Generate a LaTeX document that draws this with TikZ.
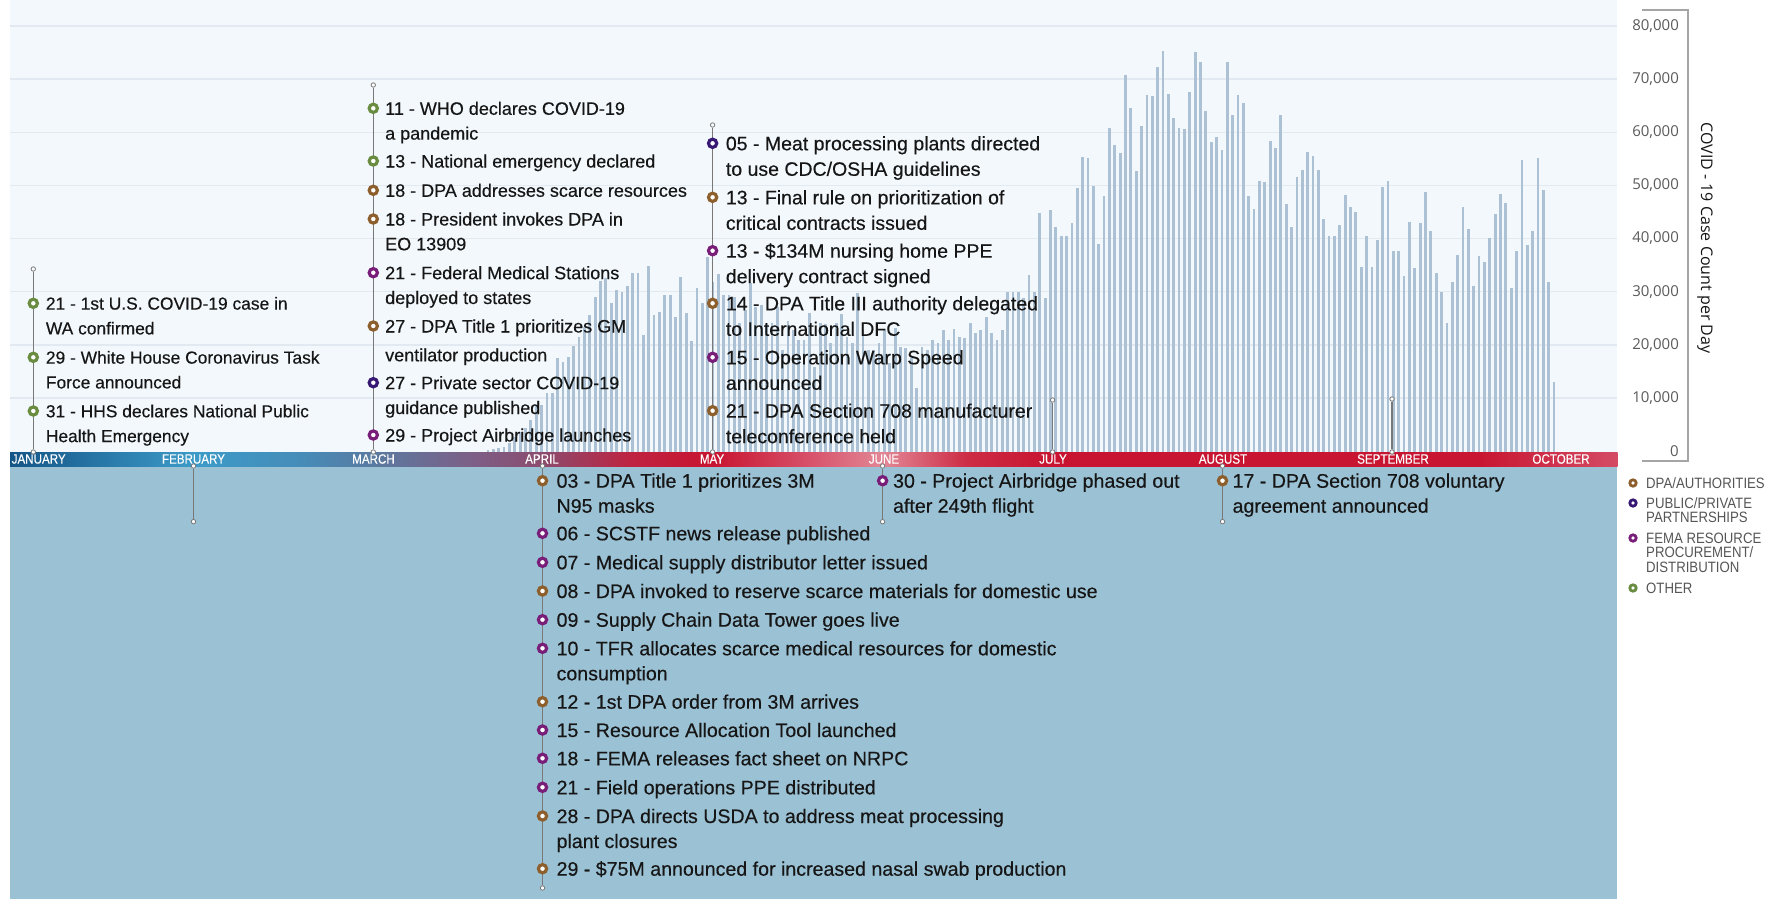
\documentclass[tikz,border=0pt]{standalone}
\usepackage{fontspec}
\setmainfont{Liberation Sans}
\newfontfamily\eventfont[FakeBold=0.35]{Liberation Sans}
\newfontfamily\condfont[FakeStretch=0.88]{Liberation Sans}
\newfontfamily\bandfont[FakeStretch=0.86,FakeBold=0.3]{Liberation Sans}
\newfontfamily\axisfont{Open Sans}

\definecolor{paper}{RGB}{243,248,252}
\definecolor{lowpanel}{RGB}{155,193,212}
\definecolor{gridc}{RGB}{226,233,240}
\definecolor{barc}{RGB}{172,194,212}
\definecolor{leadgray}{RGB}{120,120,120}
\definecolor{ink}{RGB}{22,22,22}
\definecolor{tickgray}{RGB}{90,90,90}
\definecolor{axisgray}{RGB}{165,165,165}
\definecolor{leggray}{RGB}{85,85,85}
\definecolor{dpa}{RGB}{140,95,45}
\definecolor{ppp}{RGB}{55,25,115}
\definecolor{fema}{RGB}{120,30,120}
\definecolor{other}{RGB}{105,140,65}
% timeline band colours, left to right
\definecolor{b0}{RGB}{20,85,135}
\definecolor{b1}{RGB}{60,155,200}
\definecolor{b2}{RGB}{70,140,185}
\definecolor{b3}{RGB}{90,122,160}
\definecolor{b4}{RGB}{125,95,135}
\definecolor{b5}{RGB}{140,75,110}
\definecolor{b6}{RGB}{190,35,65}
\definecolor{b7}{RGB}{200,20,48}
\definecolor{b8}{RGB}{214,75,100}
\definecolor{b9}{RGB}{226,135,150}
\definecolor{b10}{RGB}{205,45,70}
\definecolor{b11}{RGB}{200,20,48}
\definecolor{b12}{RGB}{200,22,50}
\definecolor{b13}{RGB}{212,75,100}

\begin{document}
\begin{tikzpicture}[x=1pt,y=-1pt,
  ring/.style={circle, draw=#1, fill=white, line width=3.2pt, inner sep=0pt, minimum size=8.2pt},
  legring/.style={circle, draw=#1, fill=white, line width=2.8pt, inner sep=0pt, minimum size=6.4pt},
  pin/.style={circle, draw=leadgray, fill=white, line width=0.8pt, inner sep=0pt, minimum size=4.4pt},
  lead/.style={draw=leadgray, line width=1.1pt},
  uptext/.style={anchor=base west, align=left, inner sep=0pt, text=ink, font=\eventfont\fontsize{18}{24.8}\selectfont},
  jantext/.style={uptext, font=\eventfont\fontsize{17.4}{24.8}\selectfont},
  maytext/.style={uptext, font=\eventfont\fontsize{19.5}{25.5}\selectfont},
  lowtext/.style={anchor=base west, align=left, inner sep=0pt, text=ink, font=\eventfont\fontsize{19.6}{25}\selectfont},
  month/.style={inner sep=0pt, text=white, font=\bandfont\fontsize{13.5}{13.5}\selectfont},
  tick/.style={anchor=east, inner sep=0pt, text=tickgray, font=\axisfont\fontsize{15}{15}\selectfont},
  legend/.style={anchor=base west, align=left, inner sep=0pt, text=leggray, font=\condfont\fontsize{15}{14.5}\selectfont},
  gridline/.style={draw=gridc, line width=1.4pt},
  bar/.style={fill=barc}
]
\useasboundingbox (0,0) rectangle (1786,899);

% panels
\fill[paper] (10,0) rectangle (1617,452);
\fill[lowpanel] (10,466) rectangle (1617,899);

% horizontal grid
\foreach \gy in {26,79.1,132.2,185.4,238.5,291.6,344.8,397.9}
  \draw[gridline] (10,\gy) -- (1617,\gy);

% daily case bars (top edge of each bar)
\foreach \t [count=\i from 0] in {
450,449,448,447,443,437,432,428,420,405,405,393,393,358,362,357,346,337,327,315,
297,281,278,303,290,292,286,273,273,335,266,315,312,295,295,317,277,313,341,288,303,257,
282,274,295,295,297,323,310,283,307,305,323,323,307,350,321,330,340,340,313,367,
323,324,343,323,314,337,343,293,330,350,350,343,330,363,328,347,348,358,388,347,
350,340,343,330,340,329,337,338,323,333,330,317,333,340,330,292,292,292,298,275,292,213,298,
210,227,236,236,223,188,157,158,186,244,196,128,145,153,75,108,171,126,95,96,
67,51,94,118,128,129,92,52,62,111,142,137,150,62,115,95,103,196,209,181,
182,141,148,115,204,227,177,170,152,156,170,219,236,236,225,195,207,212,267,236,
267,240,187,181,251,251,276,222,268,223,192,231,273,292,323,282,255,207,229,286,
256,262,238,214,194,203,288,251,160,245,231,158,190,282,382}
  \fill[bar] ({488+5.357*\i-1.4},452) rectangle ({488+5.357*\i+1.4},\t);

% timeline band
\foreach \xa/\xb/\ca/\cb in {10/194/b0/b1, 194/300/b1/b2, 300/374/b2/b3, 374/470/b3/b4,
  470/542/b4/b5, 542/630/b5/b6, 630/712/b6/b7, 712/800/b7/b8, 800/883/b8/b9,
  883/965/b9/b10, 965/1052/b10/b11, 1052/1480/b11/b12, 1480/1617/b12/b13}
  \shade[left color=\ca, right color=\cb] (\xa,452) rectangle ({\xb+0.6},466);

\node[month, anchor=west] (mJan) at (11.5,459) {JANUARY};
\node[month] (mFeb) at (193.5,459) {FEBRUARY};
\node[month] (mMar) at (373.5,459) {MARCH};
\node[month] (mApr) at (542,459) {APRIL};
\node[month] (mMay) at (712,459) {MAY};
\node[month] (mJun) at (884,459) {JUNE};
\node[month] (mJul) at (1053,459) {JULY};
\node[month] (mAug) at (1223,459) {AUGUST};
\node[month] (mSep) at (1393,459) {SEPTEMBER};
\node[month] (mOct) at (1561,459) {OCTOBER};

% leader lines with end pins
\node[pin] (janTop) at (33.3,269) {};
\node[pin] (janBand) at (33.3,452) {};
\draw[lead] (janTop) -- (janBand);
\node[pin] (febBand) at (193.5,466) {};
\node[pin] (febEnd) at (193.5,521.6) {};
\draw[lead] (febBand) -- (febEnd);
\node[pin] (marTop) at (373.3,85) {};
\node[pin] (marBand) at (373.3,452) {};
\draw[lead] (marTop) -- (marBand);
\node[pin] (aprBand) at (542.5,466) {};
\node[pin] (aprEnd) at (542.5,888) {};
\draw[lead] (aprBand) -- (aprEnd);
\node[pin] (mayTop) at (712.6,125) {};
\node[pin] (mayBand) at (712.6,452) {};
\draw[lead] (mayTop) -- (mayBand);
\node[pin] (junBand) at (882.6,466) {};
\node[pin] (junEnd) at (882.6,521.7) {};
\draw[lead] (junBand) -- (junEnd);
\node[pin] (julTop) at (1052.6,400) {};
\node[pin] (julBand) at (1052.6,452) {};
\draw[lead] (julTop) -- (julBand);
\node[pin] (augBand) at (1222.5,466) {};
\node[pin] (augEnd) at (1222.5,521.6) {};
\draw[lead] (augBand) -- (augEnd);
\node[pin] (sepTop) at (1392,399) {};
\node[pin] (sepBand) at (1392,452) {};
\draw[lead] (sepTop) -- (sepBand);

% January (node base = baseline of the last line)
\node[ring=other] (j1) at (33.3,303.3) {};
\node[jantext] (j1t) at (45.7,334.4) {21 - 1st U.S. COVID-19 case in\\WA confirmed};
\node[ring=other] (j2) at (33.3,357.3) {};
\node[jantext] (j2t) at (45.7,388.4) {29 - White House Coronavirus Task\\Force announced};
\node[ring=other] (j3) at (33.3,411) {};
\node[jantext] (j3t) at (45.7,442.1) {31 - HHS declares National Public\\Health Emergency};

% March
\node[ring=other] (r1) at (373.3,108.3) {};
\node[uptext] (r1t) at (385,139.6) {11 - WHO declares COVID-19\\a pandemic};
\node[ring=other] (r2) at (373.3,161) {};
\node[uptext] (r2t) at (385,167.5) {13 - National emergency declared};
\node[ring=dpa] (r3) at (373.3,190.3) {};
\node[uptext] (r3t) at (385,196.8) {18 - DPA addresses scarce resources};
\node[ring=dpa] (r4) at (373.3,219) {};
\node[uptext] (r4t) at (385,250.3) {18 - President invokes DPA in\\EO 13909};
\node[ring=fema] (r5) at (373.3,272.7) {};
\node[uptext] (r5t) at (385,304.0) {21 - Federal Medical Stations\\deployed to states};
\node[ring=dpa] (r6) at (373.3,326) {};
\node[uptext] (r6t) at (385,361.3) {27 - DPA Title 1 prioritizes GM\\[4pt]ventilator production};
\node[ring=ppp] (r7) at (373.3,382.7) {};
\node[uptext] (r7t) at (385,414.0) {27 - Private sector COVID-19\\guidance published};
\node[ring=fema] (r8) at (373.3,435) {};
\node[uptext] (r8t) at (385,441.5) {29 - Project Airbridge launches};

% May
\node[ring=ppp] (y1) at (712.6,143.3) {};
\node[maytext] (y1t) at (725.7,175.8) {05 - Meat processing plants directed\\to use CDC/OSHA guidelines};
\node[ring=dpa] (y2) at (712.6,197.3) {};
\node[maytext] (y2t) at (725.7,229.8) {13 - Final rule on prioritization of\\critical contracts issued};
\node[ring=fema] (y3) at (712.6,250.7) {};
\node[maytext] (y3t) at (725.7,283.2) {13 - \$134M nursing home PPE\\delivery contract signed};
\node[ring=dpa] (y4) at (712.6,303.3) {};
\node[maytext] (y4t) at (725.7,335.8) {14 - DPA Title III authority delegated\\to International DFC};
\node[ring=fema] (y5) at (712.6,357.3) {};
\node[maytext] (y5t) at (725.7,389.8) {15 - Operation Warp Speed\\announced};
\node[ring=dpa] (y6) at (712.6,410.7) {};
\node[maytext] (y6t) at (725.7,443.2) {21 - DPA Section 708 manufacturer\\teleconference held};

% April
\node[ring=dpa] (a1) at (542.5,480.7) {};
\node[lowtext] (a1t) at (556.4,512.7) {03 - DPA Title 1 prioritizes 3M\\N95 masks};
\node[ring=fema] (a2) at (542.5,533.3) {};
\node[lowtext] (a2t) at (556.4,540.3) {06 - SCSTF news release published};
\node[ring=fema] (a3) at (542.5,562.3) {};
\node[lowtext] (a3t) at (556.4,569.3) {07 - Medical supply distributor letter issued};
\node[ring=dpa] (a4) at (542.5,591) {};
\node[lowtext] (a4t) at (556.4,598) {08 - DPA invoked to reserve scarce materials for domestic use};
\node[ring=fema] (a5) at (542.5,619.7) {};
\node[lowtext] (a5t) at (556.4,626.7) {09 - Supply Chain Data Tower goes live};
\node[ring=fema] (a6) at (542.5,648.3) {};
\node[lowtext] (a6t) at (556.4,680.3) {10 - TFR allocates scarce medical resources for domestic\\consumption};
\node[ring=dpa] (a7) at (542.5,701.7) {};
\node[lowtext] (a7t) at (556.4,708.7) {12 - 1st DPA order from 3M arrives};
\node[ring=fema] (a8) at (542.5,730) {};
\node[lowtext] (a8t) at (556.4,737) {15 - Resource Allocation Tool launched};
\node[ring=fema] (a9) at (542.5,758.3) {};
\node[lowtext] (a9t) at (556.4,765.3) {18 - FEMA releases fact sheet on NRPC};
\node[ring=fema] (a10) at (542.5,787.3) {};
\node[lowtext] (a10t) at (556.4,794.3) {21 - Field operations PPE distributed};
\node[ring=dpa] (a11) at (542.5,816) {};
\node[lowtext] (a11t) at (556.4,848) {28 - DPA directs USDA to address meat processing\\plant closures};
\node[ring=dpa] (a12) at (542.5,868.7) {};
\node[lowtext] (a12t) at (556.4,875.7) {29 - \$75M announced for increased nasal swab production};

% June and August
\node[ring=fema] (u1) at (882.6,480.7) {};
\node[lowtext] (u1t) at (892.9,512.7) {30 - Project Airbridge phased out\\after 249th flight};
\node[ring=dpa] (g1) at (1222.5,480.7) {};
\node[lowtext] (g1t) at (1232.4,512.7) {17 - DPA Section 708 voluntary\\agreement announced};

% case-count axis
\draw[axisgray, line width=1.3pt] (1642,10) -- (1688,10) -- (1688,461) -- (1642,461);
\node[tick] (v80) at (1679,26) {80,000};
\node[tick] (v70) at (1679,79.1) {70,000};
\node[tick] (v60) at (1679,132.2) {60,000};
\node[tick] (v50) at (1679,185.4) {50,000};
\node[tick] (v40) at (1679,238.5) {40,000};
\node[tick] (v30) at (1679,291.6) {30,000};
\node[tick] (v20) at (1679,344.8) {20,000};
\node[tick] (v10) at (1679,397.9) {10,000};
\node[tick] (v0) at (1679,451) {0};
\node[rotate=-90, inner sep=0pt, text=ink, font=\axisfont\fontsize{16}{16}\selectfont] (ytitle) at (1705,238) {COVID - 19 Case Count per Day};

% legend
\node[legring=dpa] (l1) at (1633,483) {};
\node[legend] (l1t) at (1646,488.4) {DPA/AUTHORITIES};
\node[legring=ppp] (l2) at (1633,503) {};
\node[legend] (l2t) at (1646,522.9) {PUBLIC/PRIVATE\\PARTNERSHIPS};
\node[legring=fema] (l3) at (1633,538) {};
\node[legend] (l3t) at (1646,572.4) {FEMA RESOURCE\\PROCUREMENT/\\DISTRIBUTION};
\node[legring=other] (l4) at (1633,588) {};
\node[legend] (l4t) at (1646,593.4) {OTHER};
\end{tikzpicture}
\end{document}
